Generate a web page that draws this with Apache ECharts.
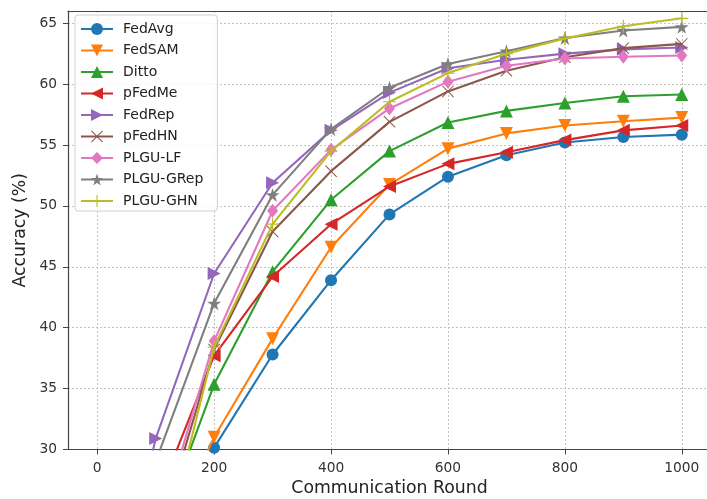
<!DOCTYPE html>
<html>
<head>
<meta charset="utf-8">
<script src="https://cdn.jsdelivr.net/npm/echarts@6/dist/echarts.min.js"></script>
<style>html,body{margin:0;padding:0;background:#fff}#c{width:707px;height:499px}</style>
</head>
<body>
<div id="c"></div>
<script>
const rounds = [0, 100, 200, 300, 400, 500, 600, 700, 800, 900, 1000];
const xTicks = [0, 200, 400, 600, 800, 1000];
const yTicks = [30, 35, 40, 45, 50, 55, 60, 65];
const names = ['FedAvg','FedSAM','Ditto','pFedMe','FedRep','pFedHN','PLGU-LF','PLGU-GRep','PLGU-GHN'];
const fedAvg   = [10, 20.0, 30.15, 37.8, 43.9, 49.3, 52.4, 54.15, 55.2, 55.65, 55.85];
const fedSAM   = [10, 21.0, 31.0, 39.1, 46.6, 51.75, 54.7, 55.95, 56.6, 56.95, 57.25];
const ditto    = [10, 22.3, 35.35, 44.6, 50.5, 54.5, 56.85, 57.8, 58.45, 59.0, 59.15];
const pFedMe   = [10, 25.6, 37.7, 44.2, 48.5, 51.6, 53.45, 54.4, 55.4, 56.2, 56.6];
const fedRep   = [10, 30.9, 44.45, 51.9, 56.2, 59.3, 61.3, 62.0, 62.5, 62.85, 63.0];
const pFedHN   = [10, 22.0, 38.2, 47.9, 52.85, 56.9, 59.4, 61.1, 62.2, 62.95, 63.3];
const plguLF   = [10, 22.7, 38.9, 49.6, 54.6, 58.0, 60.2, 61.5, 62.1, 62.25, 62.35];
const plguGRep = [10, 29.0, 42.0, 50.9, 56.3, 59.7, 61.65, 62.7, 63.78, 64.4, 64.7];
const plguGHN  = [10, 19.1, 38.4, 48.5, 54.5, 58.55, 60.9, 62.5, 63.75, 64.75, 65.4];
const allValues = [fedAvg, fedSAM, ditto, pFedMe, fedRep, pFedHN, plguLF, plguGRep, plguGHN];

const colors = ['#1f77b4','#ff7f0e','#2ca02c','#d62728','#9467bd','#8c564b','#e377c2','#7f7f7f','#bcbd22'];
const STAR = 'path://M0,-10 L2.245,-3.09 L9.511,-3.09 L3.633,1.18 L5.878,8.09 L0,3.82 L-5.878,8.09 L-3.633,1.18 L-9.511,-3.09 L-2.245,-3.09 Z';
const XMARK = 'path://M-10,-8.8 L-8.8,-10 L0,-1.2 L8.8,-10 L10,-8.8 L1.2,0 L10,8.8 L8.8,10 L0,1.2 L-8.8,10 L-10,8.8 L-1.2,0 Z';
const PLUS = 'path://M-0.9,-10 L0.9,-10 L0.9,-0.9 L10,-0.9 L10,0.9 L0.9,0.9 L0.9,10 L-0.9,10 L-0.9,0.9 L-10,0.9 L-10,-0.9 L-0.9,-0.9 Z';
const markers = [
  {symbol:'circle', size:12, rot:0},
  {symbol:'triangle', size:13, rot:180},
  {symbol:'triangle', size:13, rot:0},
  {symbol:'triangle', size:13, rot:90},
  {symbol:'triangle', size:13, rot:-90},
  {symbol:XMARK, size:12, rot:0},
  {symbol:'diamond', size:[11,14], rot:0},
  {symbol:STAR, size:14, rot:0},
  {symbol:PLUS, size:13, rot:0}
];

const FONT = 'DejaVu Sans';
const series = names.map((n, i) => ({
  name: n,
  type: 'line',
  xAxisIndex: 0,
  data: rounds.map((r, j) => [r, allValues[i][j]]),
  symbol: markers[i].symbol,
  symbolSize: markers[i].size,
  symbolRotate: markers[i].rot,
  showAllSymbol: true,
  clip: true,
  lineStyle: {color: colors[i], width: 2.1},
  itemStyle: {color: colors[i], opacity: 1},
  emphasis: {disabled: true},
  z: 2 + i
}));

const chart = echarts.init(document.getElementById('c'), null, {renderer: 'canvas'});
chart.setOption({
  animation: false,
  backgroundColor: '#fff',
  grid: {left: 68, top: 11, width: 643, height: 438.5, show: false, outerBoundsMode: 'none', containLabel: false},
  xAxis: [{
    type: 'value', min: -50, max: 1050,
    name: 'Communication Round', nameLocation: 'middle', nameGap: 31,
    nameTextStyle: {fontFamily: FONT, fontSize: 17.3, color: '#222'},
    axisLine: {show: true, onZero: false, lineStyle: {color: '#444', width: 1.2}},
    axisTick: {show: true, inside: false, length: 5, lineStyle: {color: '#444', width: 1}, customValues: xTicks},
    axisLabel: {fontFamily: FONT, fontSize: 13.8, color: '#333', margin: 12, customValues: xTicks, formatter: v => String(v)},
    splitLine: {show: true, lineStyle: {color: '#bbb', width: 0.9, type: [2, 2]}}
  }, {
    type: 'value', min: -50, max: 1050, position: 'top',
    axisLine: {show: true, onZero: false, lineStyle: {color: '#444', width: 1.2}},
    axisTick: {show: false}, axisLabel: {show: false}, splitLine: {show: false}
  }],
  yAxis: {
    type: 'value', min: 30, max: 66,
    name: 'Accuracy (%)', nameLocation: 'middle', nameGap: 30,
    nameTextStyle: {fontFamily: FONT, fontSize: 17.3, color: '#222'},
    axisLine: {show: true, onZero: false, lineStyle: {color: '#444', width: 1.2}},
    axisTick: {show: true, inside: false, length: 5, lineStyle: {color: '#444', width: 1}, customValues: yTicks},
    axisLabel: {fontFamily: FONT, fontSize: 13.8, color: '#333', margin: 11, customValues: yTicks, formatter: v => String(v)},
    splitLine: {show: true, lineStyle: {color: '#bbb', width: 0.9, type: [2, 2]}}
  },
  legend: {
    orient: 'vertical', left: 75, top: 15,
    padding: [7, 14, 3, 5],
    itemWidth: 32, itemHeight: 15, itemGap: 7.5,
    backgroundColor: 'rgba(255,255,255,0.85)', borderColor: '#d0d0d0', borderWidth: 1, borderRadius: 3,
    textStyle: {fontFamily: FONT, fontSize: 14, color: '#222', padding: [0, 0, 0, 5]},
    data: names
  },
  series: series
});
</script>
</body>
</html>
